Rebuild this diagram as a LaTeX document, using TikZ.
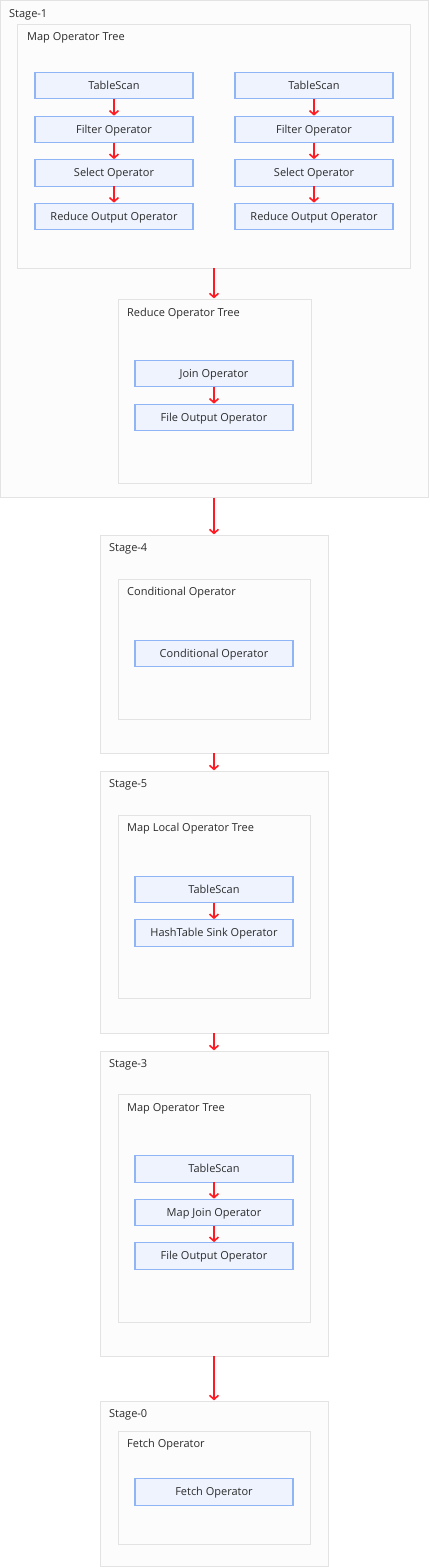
\documentclass[tikz,border=0pt]{standalone}
\usepackage{fontspec}
\setmainfont{Open Sans}
\usetikzlibrary{arrows.meta}
\definecolor{boxfill}{HTML}{FCFCFC}
\definecolor{boxline}{HTML}{E3E3E3}
\definecolor{opfill}{HTML}{EEF3FE}
\definecolor{opline}{HTML}{8FB5F7}
\definecolor{arrred}{HTML}{FF1A24}
\definecolor{txt}{HTML}{2B2B2B}
\tikzset{
  grpbox/.style={draw=boxline, fill=boxfill, line width=1pt},
  lbl/.style={anchor=west, inner sep=0pt, text=txt, font=\fontsize{11}{13}\selectfont},
  op/.style={draw=opline, fill=opfill, line width=1.2pt, minimum width=158pt, minimum height=26.5pt,
    inner sep=0pt, outer sep=0pt, text=txt, text height=9.5pt, text depth=2.5pt, font=\fontsize{11}{13}\selectfont},
  arr/.style={draw=arrred, line width=1.6pt, -{Straight Barb[length=4pt,width=9pt,line width=1.6pt]}, shorten >=0.6pt}
}
\begin{document}
\begin{tikzpicture}[x=1pt,y=-1pt]
\useasboundingbox[fill=white] (0,0) rectangle (429,1567);
% group boxes
\path[grpbox] (0.5,0.5) rectangle (428,497.5);
\coordinate (s1top) at (214,0.5);
\coordinate (s1bot) at (214,497.5);
\path[grpbox] (17,24) rectangle (410,268);
\coordinate (mt1bot) at (214,268);
\path[grpbox] (118,299) rectangle (311,483);
\coordinate (rt1top) at (214,299);
\path[grpbox] (100,535) rectangle (328,753);
\coordinate (s4top) at (214,535);
\coordinate (s4bot) at (214,753);
\path[grpbox] (118,579) rectangle (310,719);
\path[grpbox] (100,771) rectangle (328,1033);
\coordinate (s5top) at (214,771);
\coordinate (s5bot) at (214,1033);
\path[grpbox] (118,815) rectangle (310,998);
\path[grpbox] (100,1051) rectangle (328,1356);
\coordinate (s3top) at (214,1051);
\coordinate (s3bot) at (214,1356);
\path[grpbox] (118,1094) rectangle (310,1322);
\path[grpbox] (100,1401) rectangle (328,1566.5);
\coordinate (s0top) at (214,1401);
\path[grpbox] (118,1431) rectangle (310,1544);
% labels
\node[lbl] (l1) at (9,14.5) {Stage-1};
\node[lbl] (l1a) at (27,38) {Map Operator Tree};
\node[lbl] (l1b) at (127,313.5) {Reduce Operator Tree};
\node[lbl] (l4) at (109,549) {Stage-4};
\node[lbl] (l4a) at (127,593) {Conditional Operator};
\node[lbl] (l5) at (109,785) {Stage-5};
\node[lbl] (l5a) at (127,829) {Map Local Operator Tree};
\node[lbl] (l3) at (109,1065) {Stage-3};
\node[lbl] (l3a) at (127,1108.5) {Map Operator Tree};
\node[lbl] (l0) at (109,1414.5) {Stage-0};
\node[lbl] (l0a) at (127,1445) {Fetch Operator};
% operators stage 1
\node[op] (a1) at (114,85.5) {TableScan};
\node[op] (a2) at (114,129.5) {Filter Operator};
\node[op] (a3) at (114,173) {Select Operator};
\node[op] (a4) at (114,216.5) {Reduce Output Operator};
\node[op] (b1) at (314,85.5) {TableScan};
\node[op] (b2) at (314,129.5) {Filter Operator};
\node[op] (b3) at (314,173) {Select Operator};
\node[op] (b4) at (314,216.5) {Reduce Output Operator};
\node[op] (j1) at (214,373.5) {Join Operator};
\node[op] (f1) at (214,417.5) {File Output Operator};
% stage 4
\node[op] (c1) at (214,653.5) {Conditional Operator};
% stage 5
\node[op] (t5) at (214,889.5) {TableScan};
\node[op] (h5) at (214,933) {HashTable Sink Operator};
% stage 3
\node[op] (t3) at (214,1169) {TableScan};
\node[op] (m3) at (214,1212.5) {Map Join Operator};
\node[op] (f3) at (214,1256) {File Output Operator};
% stage 0
\node[op] (e0) at (214,1492) {Fetch Operator};
% arrows
\draw[arr] (a1) -- (a2);
\draw[arr] (a2) -- (a3);
\draw[arr] (a3) -- (a4);
\draw[arr] (b1) -- (b2);
\draw[arr] (b2) -- (b3);
\draw[arr] (b3) -- (b4);
\draw[arr] (mt1bot) -- (rt1top);
\draw[arr] (j1) -- (f1);
\draw[arr] (s1bot) -- (s4top);
\draw[arr] (s4bot) -- (s5top);
\draw[arr] (t5) -- (h5);
\draw[arr] (s5bot) -- (s3top);
\draw[arr] (t3) -- (m3);
\draw[arr] (m3) -- (f3);
\draw[arr] (s3bot) -- (s0top);
\end{tikzpicture}
\end{document}
